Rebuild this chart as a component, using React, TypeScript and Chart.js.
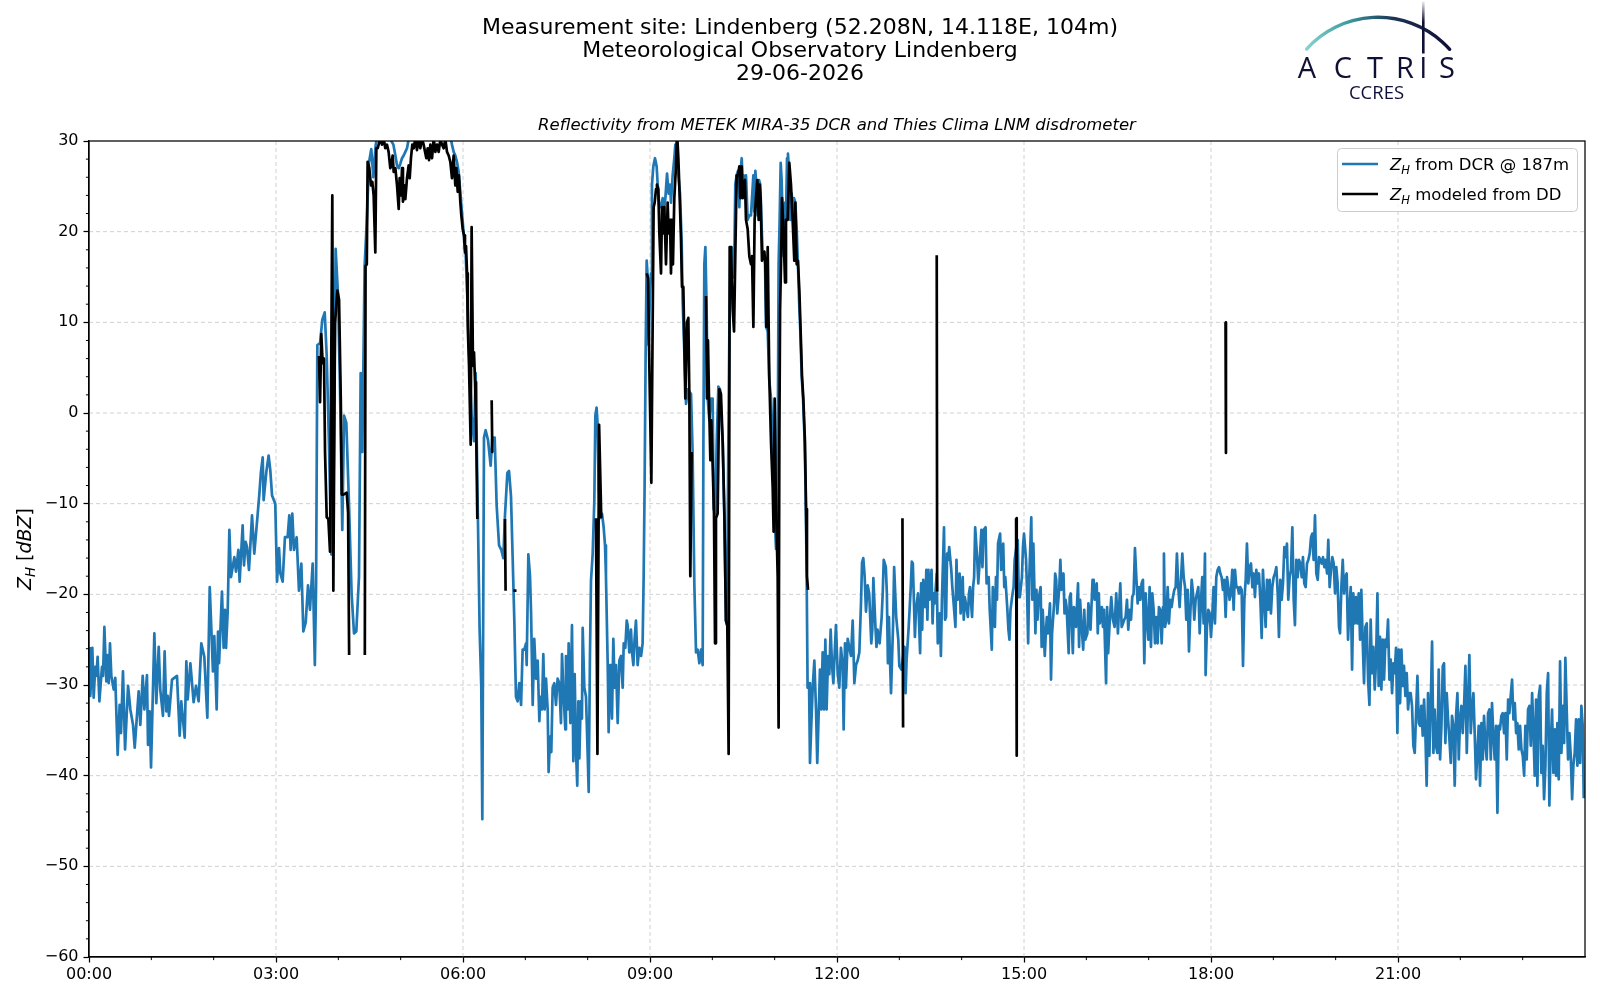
import { useEffect, useRef } from 'react';
import { Chart, registerables } from 'chart.js';

Chart.register(...registerables);

// ---- data: time in minutes after 00:00, value in dBZ ----
const DCR: [number, number][] = [
[0.7,-25.8],[1.3,-31.2],[3.2,-25.9],[4.5,-31.4],[6.0,-28.0],[7.1,-29.0],[8.3,-26.9],[10.0,-31.8],[12.5,-28.0],[13.5,-29.0],[14.8,-23.6],[16.7,-29.6],[18.0,-26.7],[19.0,-29.8],[20.2,-25.4],[21.5,-29.0],[23.8,-30.5],[25.3,-29.2],[27.6,-37.7],[29.5,-32.2],[30.8,-35.3],[32.7,-28.5],[34.7,-37.1],[37.6,-30.1],[39.8,-32.7],[42.4,-34.4],[44.0,-36.9],[47.8,-30.7],[49.4,-34.4],[51.7,-29.0],[53.3,-32.7],[55.8,-28.9],[56.8,-36.6],[58.4,-32.9],[59.7,-39.1],[62.9,-24.3],[64.8,-32.0],[67.1,-25.8],[68.6,-30.5],[71.2,-33.4],[72.8,-26.3],[74.4,-32.9],[75.7,-31.2],[77.0,-33.4],[79.9,-29.4],[84.7,-29.0],[87.3,-35.6],[88.8,-31.8],[92.1,-35.8],[93.7,-27.4],[95.0,-31.6],[97.6,-27.6],[100.7,-31.9],[103.0,-30.1],[105.5,-31.8],[108.1,-25.4],[111.0,-26.9],[113.9,-33.6],[116.2,-19.2],[117.8,-23.9],[119.3,-28.5],[120.6,-24.6],[122.9,-32.7],[124.2,-24.1],[125.2,-27.6],[128.0,-19.7],[129.6,-25.9],[130.9,-21.7],[131.9,-25.9],[133.5,-21.9],[135.1,-12.9],[136.7,-18.1],[139.9,-15.9],[141.5,-17.5],[143.8,-15.1],[145.0,-18.6],[147.9,-12.4],[149.2,-16.8],[150.8,-14.2],[152.1,-14.8],[154.0,-17.3],[156.9,-11.3],[159.1,-15.5],[162.4,-11.1],[164.0,-8.9],[165.5,-6.5],[167.2,-4.9],[168.1,-9.6],[170.7,-6.5],[172.9,-4.7],[174.5,-6.3],[176.2,-9.1],[179.3,-10.0],[181.0,-18.6],[182.9,-14.9],[184.2,-17.7],[186.4,-18.6],[188.6,-13.7],[191.2,-13.7],[192.8,-11.3],[194.1,-15.1],[195.7,-11.1],[197.3,-15.1],[199.9,-13.7],[202.1,-19.6],[204.4,-16.6],[206.3,-24.1],[208.6,-23.1],[210.8,-19.0],[212.7,-21.7],[215.3,-16.6],[217.4,-27.8],[218.6,-18.8],[219.8,7.5],[222.4,7.7],[224.6,10.3],[226.9,11.1],[228.8,6.3],[231.0,-3.5],[233.3,-15.6],[235.2,-10.6],[237.4,18.1],[239.7,13.0],[241.6,2.8],[243.8,-12.9],[245.5,-0.3],[247.7,-1.1],[250.3,-10.2],[252.8,-20.0],[255.1,-24.3],[257.3,-24.1],[259.9,-18.0],[261.5,4.4],[263.1,-4.3],[265.3,16.2],[267.3,20.9],[269.5,27.6],[271.7,29.1],[273.7,26.0],[275.9,29.5],[278.2,31.0],[282,30.5],[286,31.5],[290,30.2],[293,29.6],[294.9,28.4],[296.5,27.3],[298.1,27.0],[299.7,27.5],[301.3,28.1],[302.9,28.4],[304.5,28.8],[306.1,29.2],[307.7,30.2],[312,31],[318,31.5],[324,31],[330,31.5],[336,31],[342,31.5],[347.8,30.5],[349.4,29.6],[351.0,28.8],[352.6,28.4],[354.2,27.7],[355.8,26.6],[357.4,24.4],[359.0,22.1],[360.6,19.9],[362.6,17.4],[364.2,12.6],[366.4,5.2],[368.3,-0.3],[370.6,-3.1],[372.2,4.4],[373.8,-7.5],[376.0,-23.9],[377.6,-30.2],[378.6,-44.8],[380.2,-2.7],[381.8,-1.9],[384.1,-3.0],[386.6,-5.8],[388.2,-2.7],[390.5,-2.7],[392.4,-10.2],[394.7,-14.6],[396.9,-15.1],[398.8,-16.0],[400.4,-11.3],[402.7,-6.6],[404.3,-6.4],[406.2,-9.2],[407.8,-16.0],[409.4,-22.9],[411.0,-31.3],[412.6,-31.8],[414.2,-29.8],[415.9,-32.2],[417.4,-26.1],[419.0,-26.1],[420.7,-25.4],[421.3,-27.8],[422.9,-15.6],[424.5,-18.0],[425.5,-21.9],[427.1,-32.2],[428.6,-24.9],[430.3,-29.3],[431.9,-27.3],[433.5,-34.0],[434.5,-31.3],[436.0,-32.7],[437.3,-26.6],[438.6,-32.7],[439.9,-29.3],[441.5,-32.7],[442.4,-39.6],[443.8,-35.7],[445.0,-37.4],[446.3,-30.3],[447.9,-29.8],[449.5,-32.2],[451.1,-29.3],[452.7,-29.8],[454.3,-34.2],[455.3,-26.6],[456.9,-31.3],[458.5,-34.9],[459.1,-26.8],[460.7,-32.7],[461.7,-25.4],[463.3,-34.2],[464.9,-23.4],[466.2,-38.4],[467.5,-28.8],[468.8,-37.4],[470.0,-41.1],[471.0,-31.8],[472.0,-38.1],[473.3,-31.8],[474.5,-33.7],[475.2,-23.7],[476.8,-30.3],[478.4,-31.3],[480.0,-37.6],[481.0,-41.8],[482.2,-26.8],[483.2,-18.5],[484.8,-15.6],[486.4,-9.7],[487.4,-0.3],[488.6,0.6],[489.6,-1.3],[490.6,-8.2],[491.9,-11.6],[493.8,-11.1],[495.4,-12.6],[496.7,-14.6],[497.6,-18.0],[499.3,-27.8],[500.2,-35.2],[501.5,-27.8],[502.4,-29.8],[503.4,-33.7],[504.7,-24.9],[506.0,-30.3],[507.3,-27.8],[508.9,-34.2],[510.5,-27.3],[512.1,-26.8],[513.7,-30.3],[514.7,-25.4],[516.2,-25.9],[517.6,-22.9],[518.5,-23.4],[520.1,-26.4],[521.7,-23.9],[522.7,-26.4],[524.0,-27.8],[525.2,-24.9],[526.5,-22.9],[528.1,-27.8],[529.7,-25.9],[531.4,-26.8],[532.9,-25.4],[533.9,-18.0],[534.8,-8.2],[535.8,6.5],[536.8,16.8],[537.8,14.9],[538.7,7.5],[540.0,13.4],[541.0,15.4],[541.9,25.2],[543.2,27.2],[544.8,28.1],[546.4,27.2],[547.4,25.2],[549.0,22.7],[550.6,22.7],[552.2,23.7],[553.1,21.8],[554.8,23.7],[556.4,26.4],[557.9,24.2],[559.3,25.2],[560.2,23.2],[561.8,26.2],[563.4,28.1],[564.4,29.6],[565.7,28.1],[567.3,26.2],[568.9,24.2],[570.5,18.8],[571.4,12.4],[573.1,6.5],[574.7,1.0],[576.5,2.6],[579.5,2.1],[581.0,-4.3],[582.7,-19.0],[584.3,-26.4],[585.9,-26.1],[587.5,-27.6],[589.1,-26.1],[590.7,-27.8],[591.4,-3.3],[592.3,16.4],[593.3,18.3],[594.5,11.4],[595.5,1.6],[597.1,-0.8],[598.7,1.6],[600.3,1.6],[601.3,-10.6],[602.9,-11.1],[604.2,-3.3],[605.8,2.9],[607.4,2.6],[608.6,-0.4],[610.0,-3.3],[611.6,-11.6],[613.1,-22.9],[614.1,-23.4],[615.4,-3.3],[616.4,9.0],[617.3,16.4],[618.6,18.3],[619.6,14.9],[621.2,17.4],[622.1,25.2],[623.4,26.2],[624.7,26.7],[626.0,22.7],[626.9,26.2],[628.3,28.1],[629.2,25.2],[630.2,26.2],[631.4,23.7],[632.4,26.2],[634.0,21.3],[635.6,21.8],[637.2,21.8],[638.2,23.7],[639.5,26.2],[640.4,22.2],[641.4,26.7],[642.7,24.7],[643.6,21.8],[644.9,25.7],[646.2,25.2],[647.2,21.3],[648.4,17.8],[649.7,17.3],[650.7,16.8],[651.7,9.5],[653.3,9.0],[654.8,3.6],[656.5,1.6],[658.1,-3.3],[659.7,-10.6],[661.3,-15.0],[662.2,-8.2],[663.2,1.6],[663.8,16.4],[664.8,21.3],[665.8,27.6],[666.7,25.7],[667.7,21.3],[668.6,17.3],[670.0,23.2],[670.9,21.3],[671.9,28.1],[672.8,28.6],[674.1,26.2],[675.1,21.3],[676.4,24.2],[677.3,21.8],[678.6,23.7],[679.9,23.2],[681.2,20.3],[682.4,16.4],[683.8,11.4],[684.7,9.0],[686.0,4.1],[687.3,1.6],[688.6,-2.3],[689.8,-8.2],[690.8,-18.0],[691.7,-30.3],[693.1,-29.8],[694.0,-38.6],[695.0,-35.2],[696.6,-30.3],[698.2,-27.3],[699.8,-32.7],[701.0,-38.6],[702.1,-34.2],[703.6,-28.3],[704.9,-32.7],[706.2,-26.4],[707.5,-32.7],[708.8,-25.0],[710.0,-32.7],[711.4,-26.8],[712.6,-28.8],[713.9,-23.9],[715.2,-27.8],[716.5,-29.8],[717.8,-26.4],[719.0,-23.4],[720.7,-28.8],[722.2,-30.3],[723.8,-25.9],[725.5,-27.8],[726.4,-34.9],[727.7,-25.4],[728.6,-30.3],[730.3,-24.9],[731.9,-25.9],[733.5,-26.8],[735.1,-22.9],[736.7,-29.8],[738.3,-27.8],[739.9,-27.3],[741.5,-26.4],[743.1,-21.0],[744.1,-16.5],[745.3,-16.0],[746.6,-18.0],[747.9,-21.9],[749.5,-19.0],
[751,-19.9],[753,-25.4],[754,-23.9],[755,-18.2],[757,-23.6],[758,-25.8],[759,-23.9],[761,-25.4],[763,-22.5],[764,-19.9],[765,-16.2],[767,-17.0],[768,-19.9],[769,-27.6],[770,-22.5],[771,-27.2],[772,-30.9],[774,-23.2],[775,-17.0],[777,-22.5],[779,-25.0],[780,-27.9],[782,-28.3],[784,-26.5],[785,-25.8],[786,-30.9],[787,-27.2],[789,-23.6],[791,-19.2],[792,-16.4],[793,-16.6],[795,-24.7],[796,-21.7],[798,-19.9],[800,-26.5],[801,-18.8],[802,-23.9],[803,-18.4],[805,-21.4],[806,-17.3],[807,-22.8],[808,-17.3],[809,-20.6],[811,-17.3],[812,-23.2],[813,-19.9],[814,-21.0],[816,-17.7],[817,-25.4],[819,-22.1],[820,-26.8],[821,-20.6],[823,-12.6],[824,-22.8],[825,-22.5],[826,-15.5],[827,-16.2],[828,-14.8],[830,-17.3],[831,-19.2],[832,-20.6],[834,-23.6],[835,-16.2],[836,-20.6],[838,-17.7],[839,-22.1],[841,-18.1],[842,-22.8],[843,-20.3],[844,-21.0],[846,-22.5],[847,-19.9],[848,-19.2],[850,-22.5],[851,-19.2],[852,-18.1],[853,-12.6],[855,-16.2],[856,-18.8],[857,-17.0],[859,-12.9],[860,-17.0],[861,-12.9],[863,-12.6],[864,-18.8],[866,-18.1],[867,-21.7],[869,-26.1],[870,-19.2],[872,-23.6],[873,-18.1],[874,-20.6],[875,-14.4],[877,-13.3],[878,-17.3],[880,-14.4],[881,-19.2],[882,-18.1],[884,-21.7],[885,-23.9],[886,-25.0],[887,-21.7],[889,-19.9],[890,-19.2],[891,-16.2],[893,-14.4],[894,-14.0],[895,-20.3],[896,-20.3],[898,-18.1],[899,-14.8],[900,-13.3],[902,-16.2],[903,-19.9],[904,-25.4],[905,-18.4],[907,-11.5],[908,-20.6],[909,-14.4],[911,-24.3],[912,-19.5],[913,-22.8],[914,-20.6],[916,-19.2],[917,-25.8],[918,-21.7],[920,-26.8],[921,-24.3],[922,-22.5],[923,-24.3],[925,-21.0],[926,-29.4],[927,-24.3],[929,-21.0],[930,-17.7],[931,-18.4],[932,-22.1],[934,-19.2],[935,-16.2],[936,-19.5],[938,-17.7],[939,-22.1],[940,-20.6],[941,-21.4],[943,-26.5],[944,-20.3],[945,-19.9],[947,-26.5],[948,-21.4],[949,-21.7],[950,-23.6],[952,-18.8],[953,-25.8],[954,-20.6],[955,-22.8],[957,-26.1],[958,-21.7],[959,-25.0],[961,-24.3],[962,-21.0],[963,-22.1],[964,-23.9],[966,-18.4],[967,-18.4],[968,-20.6],[970,-18.8],[971,-24.3],[972,-19.9],[973,-23.2],[975,-21.4],[976,-23.6],[977,-21.7],[979,-29.8],[980,-21.4],[981,-26.5],
[982.4,-23.2],[984.0,-20.3],[985.6,-22.8],[987.2,-23.6],[988.8,-19.9],[990.4,-24.3],[991.4,-21.7],[992.7,-18.8],[994.0,-23.6],[995.3,-23.2],[996.5,-22.8],[997.8,-22.5],[999.1,-20.6],[1000.4,-23.9],[1001.7,-21.7],[1003.0,-22.8],[1004.2,-20.3],[1005.5,-19.9],[1006.8,-14.9],[1008.1,-18.1],[1009.4,-21.0],[1010.7,-19.2],[1012.0,-20.6],[1013.2,-18.8],[1014.5,-18.4],[1015.8,-27.6],[1017.1,-19.9],[1018.4,-22.8],[1019.7,-25.0],[1020.9,-19.2],[1022.2,-25.8],[1023.5,-19.9],[1024.8,-21.7],[1026.1,-25.4],[1027.4,-22.5],[1028.6,-25.4],[1029.9,-21.4],[1031.2,-21.7],[1032.5,-25.4],[1033.8,-21.4],[1034.7,-15.5],[1035.7,-23.6],[1037.0,-22.8],[1038.3,-19.2],[1039.5,-23.2],[1040.8,-20.6],[1042.1,-21.4],[1043.4,-20.3],[1044.7,-19.5],[1046.0,-19.2],[1047.2,-15.5],[1048.5,-19.2],[1049.8,-21.4],[1051.1,-18.4],[1052.4,-15.5],[1053.7,-18.1],[1055.0,-19.2],[1056.2,-22.8],[1057.5,-19.5],[1058.8,-26.3],[1060.1,-22.1],[1061.4,-18.4],[1062.7,-19.9],[1063.9,-22.8],[1065.2,-20.6],[1066.5,-19.9],[1067.8,-19.2],[1069.1,-24.3],[1070.4,-20.6],[1071.6,-18.1],[1072.9,-23.2],[1074.2,-15.5],[1074.8,-28.9],[1076.1,-23.6],[1077.4,-21.7],[1078.7,-22.1],[1080.0,-24.7],[1081.3,-22.1],[1082.5,-19.2],[1083.8,-23.2],[1085.1,-18.1],[1086.4,-17.3],[1087.7,-17.0],[1089.0,-17.7],[1090.2,-18.1],[1091.5,-19.5],[1092.8,-18.4],[1094.1,-22.5],[1095.4,-18.1],[1096.7,-19.2],[1097.9,-20.6],[1099.2,-19.9],[1100.5,-17.3],[1101.8,-21.7],[1103.1,-17.3],[1104.4,-19.2],[1105.7,-19.2],[1106.9,-19.9],[1108.2,-19.2],[1109.5,-19.5],[1110.8,-27.9],[1112.1,-20.6],[1113.4,-18.4],[1114.6,-14.4],[1115.9,-18.8],[1117.2,-17.0],[1118.5,-16.6],[1119.8,-19.2],[1121.1,-17.7],[1122.3,-20.3],[1123.6,-17.3],[1124.9,-18.8],[1126.2,-17.7],[1127.5,-20.6],[1128.8,-24.8],[1130.0,-17.3],[1131.3,-20.6],[1132.6,-23.6],[1133.9,-18.4],[1135.2,-21.7],[1136.5,-18.4],[1137.7,-22.1],[1139.0,-19.2],[1140.3,-18.1],[1141.6,-17.7],[1142.9,-17.0],[1144.2,-19.9],[1145.4,-24.7],[1146.7,-18.4],[1148.0,-20.6],[1149.3,-18.8],[1150.6,-14.8],[1151.9,-15.9],[1153.1,-14.4],[1154.4,-20.6],[1155.7,-18.1],[1157.0,-17.3],[1158.3,-12.6],[1159.6,-20.6],[1160.8,-23.4],[1162.1,-16.2],[1163.4,-18.1],[1164.7,-16.2],[1166.0,-16.6],[1167.3,-18.1],[1168.5,-15.9],[1169.8,-18.8],[1171.1,-19.2],[1172.4,-16.6],[1173.7,-16.2],[1175.0,-15.5],[1176.3,-13.7],[1177.5,-13.3],[1178.8,-16.2],[1180.1,-11.3],[1181.4,-17.7],[1182.7,-18.4],[1184.0,-15.9],[1185.2,-16.2],[1186.5,-16.6],[1187.8,-15.9],[1189.1,-17.0],[1190.4,-16.2],[1191.7,-17.7],[1192.9,-14.0],[1194.2,-19.2],[1195.5,-17.3],[1196.8,-15.9],[1198.1,-16.6],[1199.4,-19.9],[1200.6,-17.0],[1201.9,-18.8],[1203.2,-23.6],
[1204.2,-24.3],[1205.5,-19.2],[1206.8,-16.2],[1208.1,-19.9],[1209.3,-18.1],[1210.6,-17.7],[1211.9,-25.0],[1213.2,-21.4],[1214.5,-19.2],[1215.8,-28.3],[1217.0,-19.9],[1218.3,-23.2],[1219.6,-20.3],[1220.9,-23.2],[1222.2,-19.9],[1223.5,-25.0],[1224.7,-19.5],[1226.0,-25.0],[1227.3,-29.8],[1228.6,-23.6],[1229.9,-23.2],[1231.2,-29.4],[1232.5,-32.2],[1233.7,-22.8],[1235.0,-28.7],[1236.3,-25.8],[1237.6,-30.5],[1238.9,-27.2],[1240.2,-19.9],[1241.4,-30.1],[1242.7,-24.7],[1244.0,-30.5],[1245.3,-25.0],[1246.6,-29.4],[1247.9,-25.0],[1249.1,-25.8],[1250.4,-22.8],[1251.7,-29.4],[1253.0,-27.2],[1254.3,-30.9],[1255.6,-27.6],[1256.8,-28.7],[1258.1,-25.9],[1259.4,-35.3],[1260.7,-26.1],[1262.0,-32.0],[1263.3,-26.1],[1264.5,-30.1],[1265.8,-27.9],[1267.1,-31.2],[1268.4,-28.7],[1269.7,-32.7],[1271.0,-30.9],[1272.2,-30.9],[1273.5,-32.3],[1274.8,-36.7],[1276.1,-37.5],[1277.4,-33.1],[1278.7,-29.0],[1280.0,-34.2],[1281.2,-34.5],[1282.5,-32.3],[1283.8,-35.6],[1285.1,-31.6],[1286.4,-35.6],[1287.6,-41.1],[1288.9,-30.9],[1290.2,-37.8],[1291.5,-32.3],[1292.8,-25.2],[1294.1,-37.5],[1295.3,-32.7],[1296.6,-36.7],[1297.9,-37.5],[1299.2,-28.3],[1300.5,-38.2],[1301.8,-34.5],[1303.1,-27.9],[1304.3,-27.6],[1305.6,-36.4],[1306.9,-30.9],[1308.2,-33.8],[1309.5,-36.0],[1310.8,-38.6],[1312.0,-33.4],[1313.3,-34.5],[1314.6,-41.1],[1315.9,-33.4],[1317.2,-30.9],[1318.5,-38.2],[1319.7,-33.8],[1321.0,-32.3],[1322.3,-35.3],[1323.6,-32.3],[1324.9,-27.9],[1326.2,-37.5],[1327.4,-32.0],[1328.7,-26.7],[1330.0,-35.3],[1331.3,-32.7],[1332.6,-30.9],[1333.9,-35.6],[1335.1,-40.4],[1336.4,-37.5],[1337.7,-34.5],[1339.0,-41.1],[1340.3,-34.2],[1341.6,-38.2],[1342.8,-33.4],[1344.1,-36.4],[1345.4,-38.2],[1346.7,-33.1],[1348.0,-32.7],[1349.3,-38.2],[1350.5,-32.0],[1351.8,-35.6],[1353.1,-38.2],[1354.4,-34.5],[1355.7,-44.1],[1357.0,-34.5],[1358.2,-34.9],[1359.5,-33.4],[1360.8,-33.1],[1362.1,-35.3],[1363.4,-33.1],[1364.7,-38.2],[1366.0,-31.6],[1367.2,-33.1],[1368.5,-31.2],[1369.8,-29.4],[1371.1,-33.8],[1372.4,-32.0],[1373.7,-35.3],[1374.9,-34.2],[1376.2,-37.1],[1377.5,-34.5],[1378.8,-37.1],[1380.1,-37.8],[1381.4,-40.0],[1382.6,-34.5],[1383.9,-38.2],[1385.2,-32.7],[1386.5,-32.3],[1387.8,-36.7],[1389.1,-30.9],[1390.3,-34.9],[1391.6,-40.0],[1392.9,-31.6],[1394.2,-41.1],[1395.5,-31.2],[1396.8,-30.1],[1398.0,-39.7],[1399.3,-36.7],[1400.6,-42.6],[1401.9,-38.9],[1403.2,-30.9],[1404.5,-28.7],[1405.7,-43.3],[1407.0,-36.7],[1408.3,-32.7],[1409.6,-39.7],[1410.9,-34.9],[1412.2,-40.0],[1413.4,-34.2],[1414.7,-40.4],[1416.0,-27.4],[1417.3,-37.5],[1418.6,-32.3],[1419.9,-36.4],[1421.1,-27.0],[1422.4,-32.7],[1423.7,-38.2],[1425.0,-35.3],[1426.3,-37.8],[1427.6,-42.6],[1428.8,-38.9],[1430.1,-37.5],[1431.4,-33.8],[1432.7,-38.9],[1434.0,-33.8],[1435.3,-38.6],[1436.5,-32.3],[1437.8,-34.5],[1438.8,-42.5]
];

// disdrometer-modelled reflectivity, null = no data (gap)
const DD: [number, number | null][] = [
[221.4,6.3],[222.4,1.2],[223.6,8.7],[224.9,5.5],[226.2,6.0],[227.2,-4.3],[228.8,-11.5],[230.4,-11.7],[232.0,-15.3],[234.2,24.0],[235.2,-19.6],[236.8,9.9],[239.1,13.5],[240.7,12.5],[242.4,1.2],[243.3,-9.0],[244.9,-9.0],[248.1,-8.8],[249.4,-11.0],[250.4,-26.7],[251,null],
[265.5,-26.7],[266.2,16.2],[267.4,16.4],[268.2,27.7],[269.8,27.0],[271.4,25.1],[272.7,25.5],[274.0,24.0],[275.6,17.7],[276.6,29.2],[277.9,29.2],[280.4,30.3],[282.0,29.6],[283.6,30.3],[285.2,29.2],[286.8,29.6],[288.4,28.8],[290.0,27.0],[291.0,27.3],[292.3,28.4],[293.3,26.6],[294.9,27.0],[296.5,25.1],[298.1,22.5],[299.0,25.9],[300.3,24.0],[301.3,27.0],[302.2,23.3],[303.5,25.1],[304.5,23.6],[306.1,25.9],[307.7,27.3],[308.7,25.9],[309.9,28.1],[311.2,29.6],[312.5,29.2],[314.1,30.3],[315.7,29.0],[317.3,30.3],[318.9,29.2],[320.5,30.3],[322.1,29.6],[324.7,28.1],[326.0,29.2],[327.3,27.9],[328.6,29.6],[330.2,28.1],[331.8,30.3],[333.4,28.8],[335.0,29.6],[336.6,28.8],[338.2,30.2],[339.8,29.6],[341.4,29.2],[343.0,30.2],[344.6,28.8],[346.2,28.4],[347.8,27.7],[349.4,25.9],[351.0,28.4],[352.6,25.1],[353.6,27.0],[354.9,24.4],[356.1,26.2],[357.4,23.3],[358.4,21.8],[359.7,20.3],[361.0,19.6],[361.9,17.7],[362.9,18.4],[363.9,15.4],[364.6,9.5],[365.8,5.2],[367.4,-3.5],[368.3,20.5],[369.6,5.2],[370.6,6.7],[371.6,3.4],[372.5,-0.3],[373.8,-11.7],[374.5,null],
[387.6,1.4],[388.2,-4.3],[389.2,-4.3],[390,null],
[400.4,-11.7],[401.0,-19.6],[402,null],
[408.5,-19.6],[411.5,-19.6],[412,null],
[488.0,-11.6],[489.4,-37.6],[491.0,-1.3],[493.1,-11.6],[494,null],
[536.8,15.4],[538.1,14.9],[539.4,5.0],[541.3,-7.7],[542.6,10.5],[543.5,22.7],[544.5,23.2],[545.8,24.7],[546.7,25.2],[548.0,24.7],[549.0,19.8],[550.6,15.4],[551.6,22.7],[552.8,19.8],[553.8,22.7],[555.4,16.4],[557.0,23.2],[557.9,19.8],[559.3,21.3],[560.2,15.4],[561.2,21.3],[562.1,16.4],[563.4,23.7],[565.0,27.2],[566.0,31.0],[567.3,28.1],[568.6,23.7],[569.8,19.3],[570.8,13.9],[572.1,13.9],[574.0,1.6],[575.6,10.0],[576.9,10.5],[577.9,1.6],[578.8,-18.0],[580.1,-4.3],[581,null],
[593.9,12.9],[594.8,1.6],[595.8,8.0],[596.8,1.6],[598.1,-5.2],[599.0,-0.8],[600.3,-5.7],[601.6,-11.1],[602.6,-25.4],[603.5,-11.6],[605.1,-11.1],[606.7,2.6],[608.3,2.1],[610.0,-3.3],[611.6,-11.1],[613.1,-22.9],[614.4,-23.4],[615.7,-37.6],[616.7,18.3],[617.9,18.3],[619.6,11.4],[620.9,9.0],[622.1,17.3],[623.4,26.2],[624.7,26.2],[626.0,27.2],[626.9,23.7],[628.3,27.2],[629.2,23.7],[630.2,25.2],[631.4,25.7],[632.4,21.3],[634.0,20.3],[635.6,17.3],[637.2,16.4],[638.2,17.3],[639.5,9.5],[640.7,21.3],[642.0,23.7],[643.3,25.7],[644.6,21.3],[645.5,25.2],[646.5,23.7],[647.8,16.8],[649.1,17.3],[650.1,17.8],[651.0,16.4],[652.0,9.5],[653.3,18.3],[654.8,4.1],[656.5,-3.3],[658.1,-8.2],[659.0,-13.1],[660.0,1.6],[661.0,-8.2],[661.9,-13.1],[662.9,-18.0],[663.8,-34.7],[664.5,-3.3],[665.2,11.4],[666.1,16.4],[667.1,23.7],[668.7,19.3],[670.0,14.4],[670.9,21.3],[672.5,21.3],[674.1,27.6],[675.7,25.2],[677.3,21.3],[678.9,16.8],[679.9,23.2],[681.2,16.4],[682.4,16.8],[683.8,13.4],[685.0,9.0],[686.3,4.1],[687.6,1.6],[689.2,-3.3],[690.2,-10.6],[691.1,-18.0],[692.1,-19.5],[693,null],
[783.0,-11.6],[783.6,-34.7],[784,null],
[816.0,17.4],[816.4,-19.7],[817,null],
[892.4,-11.6],[893.0,-37.8],[894,null],
[1094.0,10.0],[1094.4,-4.4]
];

const X_MAJOR = [0, 180, 360, 540, 720, 900, 1080, 1260];
const X_MINOR = [60, 120, 240, 300, 420, 480, 600, 660, 780, 840, 960, 1020, 1140, 1200, 1320, 1380];
const Y_MAJOR = [-60, -50, -40, -30, -20, -10, 0, 10, 20, 30];
const Y_MINOR = [-58, -56, -54, -52, -48, -46, -44, -42, -38, -36, -34, -32, -28, -26, -24, -22, -18, -16, -14, -12, -8, -6, -4, -2, 2, 4, 6, 8, 12, 14, 16, 18, 22, 24, 26, 28];

const TITLE_LINES = [
  'Measurement site: Lindenberg (52.208N, 14.118E, 104m)',
  'Meteorological Observatory Lindenberg',
  '29-06-2026',
];
const SUBTITLE = 'Reflectivity from METEK MIRA-35 DCR and Thies Clima LNM disdrometer';
const LEGEND_ITEMS = [
  { text: ' from DCR @ 187m', color: '#1f77b4' },
  { text: ' modeled from DD', color: '#000000' },
];
const LOGO_LETTERS = ['A', 'C', 'T', 'R', 'I', 'S'];

const FONT = '"DejaVu Sans", "Liberation Sans", sans-serif';
const NAVY = '#0f1035';
const LINE_W = 2.7;

function fmtTime(v: number): string {
  const h = Math.floor(v / 60);
  const m = Math.round(v % 60);
  return String(h).padStart(2, '0') + ':' + String(m).padStart(2, '0');
}
function fmtNum(v: number): string {
  return v < 0 ? '\u2212' + Math.abs(v) : String(v);
}

function drawZH(ctx: CanvasRenderingContext2D, x: number, y: number, size: number, draw: boolean): number {
  ctx.font = `italic ${size}px ${FONT}`;
  if (draw) ctx.fillText('Z', x, y);
  x += ctx.measureText('Z').width;
  ctx.font = `italic ${size * 0.7}px ${FONT}`;
  if (draw) ctx.fillText('H', x, y + size * 0.2);
  x += ctx.measureText('H').width;
  return x;
}

const decor = {
  id: 'decor',
  beforeDatasetsDraw(chart: any) {
    const { ctx, chartArea: a, scales } = chart;
    const x = scales.x, y = scales.y;
    ctx.save();
    ctx.strokeStyle = '#d0d0d0';
    ctx.lineWidth = 1;
    ctx.setLineDash([4, 3]);
    for (const v of X_MAJOR) {
      if (v === 0) continue;
      const px = x.getPixelForValue(v);
      ctx.beginPath(); ctx.moveTo(px, a.top); ctx.lineTo(px, a.bottom); ctx.stroke();
    }
    for (const v of Y_MAJOR) {
      if (v === -60 || v === 30) continue;
      const py = y.getPixelForValue(v);
      ctx.beginPath(); ctx.moveTo(a.left, py); ctx.lineTo(a.right, py); ctx.stroke();
    }
    ctx.restore();
  },
  afterDatasetsDraw(chart: any) {
    const { ctx, chartArea: a, scales } = chart;
    const x = scales.x, y = scales.y;
    ctx.save();
    ctx.strokeStyle = '#000';
    ctx.lineWidth = 1.25;
    ctx.strokeRect(a.left, a.top, a.right - a.left, a.bottom - a.top);
    ctx.lineWidth = 1;
    for (const v of X_MINOR) {
      const px = x.getPixelForValue(v);
      ctx.beginPath(); ctx.moveTo(px, a.bottom); ctx.lineTo(px, a.bottom + 3.1); ctx.stroke();
    }
    for (const v of Y_MINOR) {
      const py = y.getPixelForValue(v);
      ctx.beginPath(); ctx.moveTo(a.left, py); ctx.lineTo(a.left - 3.1, py); ctx.stroke();
    }
    ctx.restore();
  },
  afterDraw(chart: any) {
    const { ctx, chartArea: a } = chart;
    ctx.save();
    ctx.fillStyle = '#000';
    // titles
    ctx.textAlign = 'center';
    ctx.textBaseline = 'middle';
    ctx.font = `22px ${FONT}`;
    const ys = [28.6, 51.2, 74.6];
    TITLE_LINES.forEach((t, i) => ctx.fillText(t, 800, ys[i]));
    ctx.font = `italic 16.5px ${FONT}`;
    ctx.fillText(SUBTITLE, (a.left + a.right) / 2, 125.5);

    // legend
    const lx = 1337.5, ly = 148.5, lw = 240, lh = 63;
    ctx.beginPath();
    (ctx as any).roundRect(lx, ly, lw, lh, 4);
    ctx.fillStyle = 'rgba(255,255,255,0.8)';
    ctx.fill();
    ctx.strokeStyle = '#cccccc';
    ctx.lineWidth = 1;
    ctx.stroke();
    const rows = [164, 194];
    LEGEND_ITEMS.forEach((it, i) => {
      ctx.strokeStyle = it.color;
      ctx.lineWidth = LINE_W;
      ctx.beginPath(); ctx.moveTo(1342, rows[i]); ctx.lineTo(1378, rows[i]); ctx.stroke();
      ctx.fillStyle = '#000';
      ctx.textAlign = 'left';
      ctx.textBaseline = 'alphabetic';
      const base = rows[i] + 6.4;
      const nx = drawZH(ctx, 1390, base, 16.5, true);
      ctx.font = `16.5px ${FONT}`;
      ctx.fillText(it.text, nx, base);
    });

    // y axis title
    ctx.save();
    ctx.translate(24, 549);
    ctx.rotate(-Math.PI / 2);
    ctx.fillStyle = '#000';
    ctx.textAlign = 'left';
    ctx.textBaseline = 'alphabetic';
    const s = 19;
    let w = drawZH(ctx, 0, 0, s, false);
    ctx.font = `${s}px ${FONT}`; w += ctx.measureText(' [').width;
    ctx.font = `italic ${s}px ${FONT}`; w += ctx.measureText('dBZ').width;
    ctx.font = `${s}px ${FONT}`; w += ctx.measureText(']').width;
    let cx = -w / 2;
    const by = s * 0.36;
    cx = drawZH(ctx, cx, by, s, true);
    ctx.font = `${s}px ${FONT}`; ctx.fillText(' [', cx, by); cx += ctx.measureText(' [').width;
    ctx.font = `italic ${s}px ${FONT}`; ctx.fillText('dBZ', cx, by); cx += ctx.measureText('dBZ').width;
    ctx.font = `${s}px ${FONT}`; ctx.fillText(']', cx, by);
    ctx.restore();

    // logo
    const grad = ctx.createLinearGradient(1306, 0, 1450, 0);
    grad.addColorStop(0, '#86d4cc');
    grad.addColorStop(0.3, '#3a9aa0');
    grad.addColorStop(0.6, '#1b3556');
    grad.addColorStop(1, NAVY);
    ctx.strokeStyle = grad;
    ctx.lineWidth = 3.4;
    ctx.lineCap = 'round';
    ctx.beginPath();
    ctx.arc(1378, 113.6, 96.3, -137.9 * Math.PI / 180, -41.9 * Math.PI / 180);
    ctx.stroke();
    const g2 = ctx.createLinearGradient(0, 1, 0, 22);
    g2.addColorStop(0, 'rgba(15,16,53,0.05)');
    g2.addColorStop(1, NAVY);
    ctx.fillStyle = g2;
    ctx.fillRect(1422, 1.5, 2.6, 52);
    ctx.fillStyle = NAVY;
    ctx.textAlign = 'center';
    ctx.textBaseline = 'alphabetic';
    ctx.font = `500 29px "Open Sans", ${FONT}`;
    const centers = [1307, 1343, 1375, 1405, 1423.3, 1447];
    LOGO_LETTERS.forEach((ch, i) => ctx.fillText(ch, centers[i], 77.5));
    ctx.font = `18.5px "Open Sans", ${FONT}`;
    ctx.fillText('CCRES', 1376.5, 99);
    ctx.restore();
  },
};

export default function App() {
  const ref = useRef<HTMLCanvasElement | null>(null);
  useEffect(() => {
    const canvas = ref.current;
    if (!canvas) return;
    Chart.defaults.font.family = FONT;
    const chart = new Chart(canvas, {
      type: 'line',
      data: {
        datasets: [
          {
            label: 'DD',
            data: DD.map(([t, v]) => ({ x: t, y: v })) as any,
            borderColor: '#000000',
            backgroundColor: '#000000',
            borderWidth: LINE_W,
            pointRadius: 0,
            tension: 0,
            spanGaps: false,
            borderJoinStyle: 'round',
            clip: 0 as any,
            order: 1,
          },
          {
            label: 'DCR',
            data: DCR.map(([t, v]) => ({ x: t, y: v })) as any,
            borderColor: '#1f77b4',
            backgroundColor: '#1f77b4',
            borderWidth: LINE_W,
            pointRadius: 0,
            tension: 0,
            borderJoinStyle: 'round',
            clip: 0 as any,
            order: 2,
          },
        ],
      },
      options: {
        animation: false,
        responsive: false,
        events: [],
        layout: { padding: { left: 0, top: 141, right: 15, bottom: 0 } },
        plugins: { legend: { display: false }, title: { display: false }, tooltip: { enabled: false } },
        scales: {
          x: {
            type: 'linear',
            min: 0,
            max: 1440,
            afterBuildTicks: (s: any) => { s.ticks = X_MAJOR.map((v) => ({ value: v })); },
            afterFit: (s: any) => { s.height = 43; },
            ticks: {
              autoSkip: false,
              maxRotation: 0,
              padding: 3,
              color: '#000',
              font: { size: 16, family: FONT },
              callback: (v: any) => fmtTime(Number(v)),
            },
            grid: { display: true, drawOnChartArea: false, drawTicks: true, tickLength: 5.5, tickColor: '#000', tickWidth: 1.25 },
            border: { display: true, color: '#000', width: 1.25 },
          },
          y: {
            type: 'linear',
            min: -60,
            max: 30,
            afterBuildTicks: (s: any) => { s.ticks = Y_MAJOR.map((v) => ({ value: v })); },
            afterFit: (s: any) => { s.width = 89; },
            ticks: {
              autoSkip: false,
              padding: 5,
              color: '#000',
              font: { size: 16, family: FONT },
              callback: (v: any) => fmtNum(Number(v)),
            },
            grid: { display: true, drawOnChartArea: false, drawTicks: true, tickLength: 5.5, tickColor: '#000', tickWidth: 1.25 },
            border: { display: true, color: '#000', width: 1.25 },
          },
        },
      },
      plugins: [decor as any],
    });
    return () => chart.destroy();
  }, []);
  return (
    <div style={{ position: 'absolute', left: 0, top: 0, width: 1600, height: 1000, background: '#ffffff' }}>
      <canvas ref={ref} width={1600} height={1000} style={{ display: 'block', width: 1600, height: 1000 }} />
    </div>
  );
}
